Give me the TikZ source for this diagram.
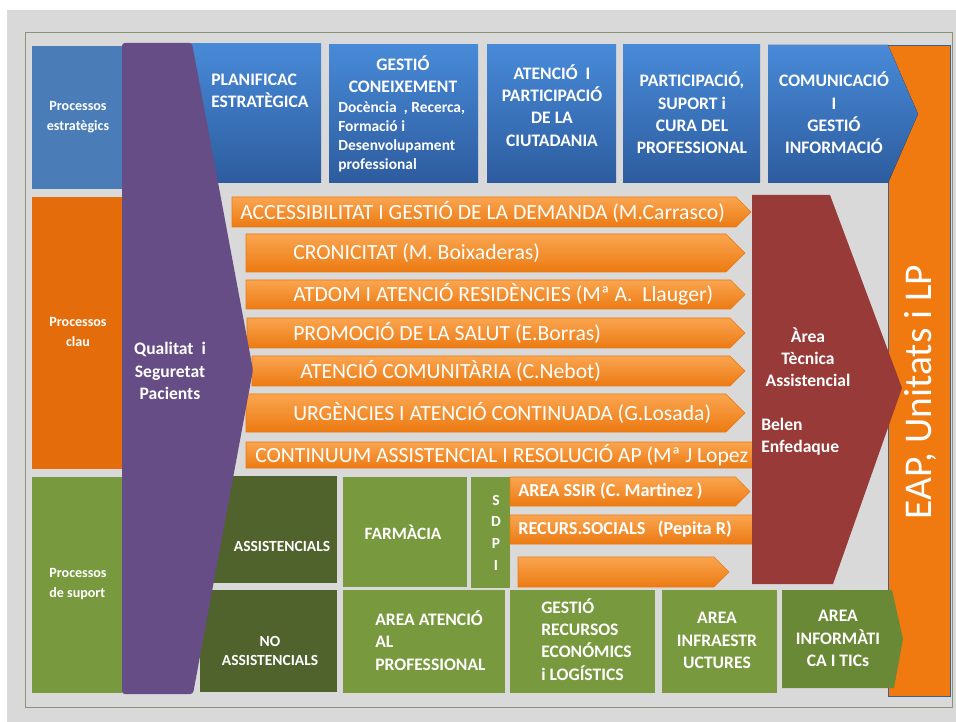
\documentclass[tikz,border=0pt]{standalone}
\usepackage{fontspec}
\setmainfont{Carlito}
\usepackage{tikz}

\definecolor{bgGray}{RGB}{217,217,217}
\definecolor{frameLine}{RGB}{140,148,120}
\definecolor{stratBlue}{RGB}{74,124,184}
\definecolor{blueTop}{RGB}{72,138,216}
\definecolor{blueBot}{RGB}{45,92,158}
\definecolor{clauOrange}{RGB}{228,108,10}
\definecolor{rowTop}{RGB}{250,165,80}
\definecolor{rowBot}{RGB}{236,122,18}
\definecolor{qualPurple}{RGB}{102,77,133}
\definecolor{tecRed}{RGB}{152,58,55}
\definecolor{darkOlive}{RGB}{80,99,45}
\definecolor{lightOlive}{RGB}{121,153,62}
\definecolor{ticGreen}{RGB}{106,137,54}
\definecolor{eapOrange}{RGB}{240,122,16}
\definecolor{barLine}{RGB}{60,95,140}

\begin{document}
\begin{tikzpicture}[x=0.025cm,y=-0.025cm,
    lab/.style={text=white,inner sep=0pt,align=center,font=\bfseries\fontsize{10}{14}\selectfont},
    hdr/.style={text=white,inner sep=0pt,align=center,font=\bfseries\fontsize{12.5}{15.8}\selectfont},
    rowtext/.style={text=white,inner sep=0pt,anchor=west,font=\fontsize{15.4}{17}\selectfont},
    subtext/.style={text=white,inner sep=0pt,anchor=west,font=\bfseries\fontsize{13}{15}\selectfont},
    bluebox/.style={top color=blueTop,bottom color=blueBot},
    rowshape/.style={top color=rowTop,bottom color=rowBot}]
    \useasboundingbox (0,0) rectangle (956,722);
    \fill[white] (0,0) rectangle (956,722);
    \fill[bgGray] (7,10) rectangle (956,722);
    \draw[frameLine,fill=bgGray] (25,32) rectangle (952,707);

    % left column
    \fill[stratBlue] (32,46) rectangle (122,189);
    \fill[clauOrange] (32,197) rectangle (122,469);
    \fill[lightOlive] (32,477) rectangle (122,693);
    \node[lab] (estrat) at (78,117) {Processos\\estratègics};
    \node[lab] (clau) at (78,332) {Processos\\clau};
    \node[lab,align=left] (suport) at (78,584) {Processos\\de suport};

    % top row
    \fill[bluebox] (180,44) rectangle (321,183);
    \fill[bluebox] (329,45) rectangle (478,183);
    \fill[bluebox] (487,45) rectangle (616,183);
    \fill[bluebox] (623,45) rectangle (760,183);
    \draw[draw=barLine,fill=eapOrange] (888,45) rectangle (950,696);
    \fill[bluebox] (768,45) -- (888,45) -- (918,114) -- (888,183) -- (768,183) -- cycle;
    \node[hdr,align=left,anchor=west] (planif) at (211,91) {PLANIFICAC\\ESTRATÈGICA};
    \node[hdr] (gestio) at (403,74.5) {GESTIÓ\\CONEIXEMENT};
    \node[subtext,align=left,font=\bfseries\fontsize{11}{13.6}\selectfont] (docencia) at (338,136.5)
        {Docència\ \ , Recerca,\\Formació i\\Desenvolupament\\professional};
    \node[hdr] (ciutad) at (552,105.5) {ATENCIÓ\ \ I\\PARTICIPACIÓ\\DE LA\\CIUTADANIA};
    \node[hdr] (profes) at (692,113) {PARTICIPACIÓ,\\SUPORT i\\CURA DEL\\PROFESSIONAL};
    \node[hdr] (comunic) at (834,113) {COMUNICACIÓ\\I\\GESTIÓ\\INFORMACIÓ};

    % processos clau
    \foreach \yt/\yb/\xs/\xt/\tx/\lab [count=\i] in {
        197/227/232/751/240/{ACCESSIBILITAT I GESTIÓ DE LA DEMANDA (M.Carrasco)},
        234/272/246/745/293/{CRONICITAT (M. Boixaderas)},
        280/309/246/745/293/{ATDOM I ATENCIÓ RESIDÈNCIES (Mª A.\ \ Llauger)},
        318/348/247/745/293/{PROMOCIÓ DE LA SALUT (E.Borras)},
        356/386/252/745/300/{ATENCIÓ COMUNITÀRIA (C.Nebot)},
        394/432/246/745/293/{URGÈNCIES I ATENCIÓ CONTINUADA (G.Losada)},
        442/468/246/775/255/{CONTINUUM ASSISTENCIAL I RESOLUCIÓ AP (Mª J Lopez}}{
        \draw[rowshape,draw=rowBot] (\xs,\yt) -- ({\xt-(\yb-\yt)/2},\yt) -- (\xt,{(\yt+\yb)/2})
            -- ({\xt-(\yb-\yt)/2},\yb) -- (\xs,\yb) -- cycle;
        \node[rowtext] (row\i) at (\tx,{(\yt+\yb)/2}) {\lab};
    }

    % suport
    \fill[darkOlive] (200,476) rectangle (337,583);
    \fill[darkOlive] (200,590) rectangle (337,692);
    \fill[lightOlive] (343,477) rectangle (467,587);
    \fill[lightOlive] (471,477) rectangle (510,588);
    \foreach \yt/\yb/\xs/\xt/\lab [count=\i] in {
        477/506/510/750/{AREA SSIR (C. Martinez )},
        515/544/510/775/{RECURS.SOCIALS\ \ \ (Pepita R)},
        557/587/518/729/{}}{
        \draw[rowshape,draw=rowBot] (\xs,\yt) -- ({\xt-(\yb-\yt)/2},\yt) -- (\xt,{(\yt+\yb)/2})
            -- ({\xt-(\yb-\yt)/2},\yb) -- (\xs,\yb) -- cycle;
        \node[subtext] (sdpirow\i) at (518,{(\yt+\yb)/2}) {\lab};
    }
    \fill[lightOlive] (343,590) rectangle (505,693);
    \fill[lightOlive] (510,590) rectangle (655,693);
    \fill[lightOlive] (662,590) rectangle (777,693);
    \fill[ticGreen] (782,590) -- (892,590) -- (903,639) -- (894,688) -- (782,688) -- cycle;

    % area tecnica
    \fill[tecRed] (752,195) -- (830,195) -- (902,388) -- (833,584) -- (752,584) -- cycle;
    \node[hdr] (area) at (808,357) {Àrea\\Tècnica\\Assistencial};
    \node[hdr,align=left,anchor=west] (belen) at (761,436.5) {Belen\\Enfedaque};

    % qualitat
    \fill[qualPurple,rounded corners=2pt] (122,43) -- (192,43) -- (253,370) -- (193,694) -- (122,694) -- cycle;
    \node[hdr] (qualitat) at (170,371) {Qualitat\ \ i\\Seguretat\\Pacients};

    \node[lab,font=\bfseries\fontsize{11}{14}\selectfont] (assist) at (282,546) {ASSISTENCIALS};
    \node[lab,font=\bfseries\fontsize{11}{14}\selectfont] (noassist) at (270,651) {NO\\ASSISTENCIALS};
    \node[lab,font=\bfseries\fontsize{12.3}{14}\selectfont] (farmacia) at (403,532) {FARMÀCIA};
    \node[lab,font=\bfseries\fontsize{11}{15.4}\selectfont] (sdpi) at (496,532.5) {S\\D\\P\\I};
    \node[hdr,align=left,anchor=west] (atencio) at (375,640.5) {AREA ATENCIÓ\\AL\\PROFESSIONAL};
    \node[hdr,align=left,anchor=west] (recursos) at (541,639.5) {GESTIÓ\\RECURSOS\\ECONÓMICS\\i LOGÍSTICS};
    \node[hdr] (infra) at (717,640.5) {AREA\\INFRAESTR\\UCTURES};
    \node[hdr] (tics) at (838,638.5) {AREA\\INFORMÀTI\\CA I TICs};

    \node[text=white,inner sep=0pt,rotate=90,font=\fontsize{28}{30}\selectfont] (eap) at (920,392) {EAP, Unitats i LP};
\end{tikzpicture}
\end{document}
